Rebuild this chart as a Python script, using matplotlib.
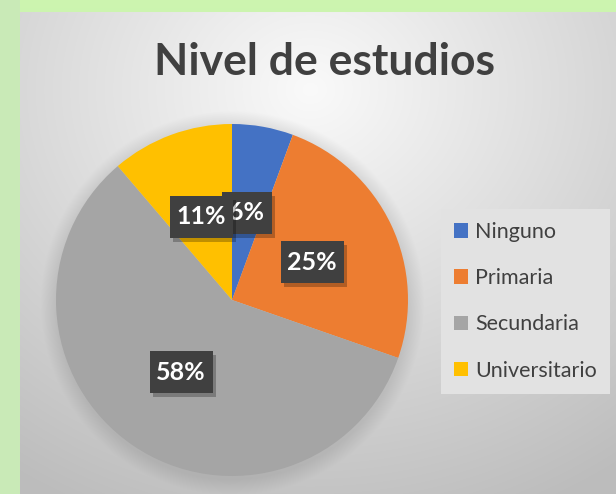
import numpy as np
import matplotlib
matplotlib.use('Agg')
import matplotlib.pyplot as plt
from matplotlib.patches import Patch, Rectangle

# data
categories = ['Ninguno', 'Primaria', 'Secundaria', 'Universitario']
counts = [5, 22, 52, 10]
colors = ['#4472C4', '#ED7D31', '#A5A5A5', '#FFC000']
title = 'Nivel de estudios'

W, H = 616, 494
fig = plt.figure(figsize=(W / 100, H / 100), dpi=100)
ax = fig.add_axes([0, 0, 1, 1])

# background: green frame + grey radial panel with soft pie shadow
yy, xx = np.mgrid[0:H, 0:W]   # yy top-down
img = np.zeros((H, W, 3))
img[:] = np.array([0.80, 0.96, 0.69])
img[:, :20] = np.array([0.79, 0.92, 0.72])
px0, py0 = 20, 13
cx, cy, R = 232, 300, 176
d = np.sqrt(((xx - 310) / 1.15) ** 2 + ((yy - 90) / 1.0) ** 2)
shade = np.clip(0.98 - d / 420 * 0.22, 0.74, 0.98)
panel = np.stack([shade] * 3, axis=-1)
dp = np.sqrt((xx - cx) ** 2 + (yy - cy - 3) ** 2)
sh = np.clip((R + 16 - dp) / 16, 0, 1) * 0.10
panel = panel * (1 - sh[..., None])
mask = (xx >= px0) & (yy >= py0)
img[mask] = panel[mask]
ax.imshow(img, extent=(0, W, 0, H), origin='upper', zorder=0, interpolation='bilinear')

# pie
wedges, _ = ax.pie(counts, colors=colors, startangle=90, counterclock=False,
                   center=(cx, H - cy), radius=R, frame=True,
                   wedgeprops=dict(linewidth=0))
ax.set_xlim(0, W)
ax.set_ylim(0, H)
ax.set_aspect('auto')
ax.axis('off')
for w in wedges:
    w.set_zorder(2)

# data labels
total = sum(counts)
pcts = ['%d%%' % round(c * 100.0 / total) for c in counts]
label_pos = [(247, 213), (312, 262), (181, 372), (201, 217)]
label_w = [50, 63, 63, 63]
for i in range(len(counts)):
    x, y = label_pos[i]
    bw, bh = label_w[i], 42
    ax.add_patch(Rectangle((x - bw / 2 + 3, H - y - bh / 2 - 4), bw, bh,
                           facecolor='#000000', alpha=0.25, linewidth=0, zorder=3 + i))
    ax.add_patch(Rectangle((x - bw / 2, H - y - bh / 2), bw, bh,
                           facecolor='#404040', linewidth=0, zorder=3.1 + i))
    ax.text(x, H - y, pcts[i], ha='center', va='center', color='white',
            fontsize=18, fontweight='bold', family='Lato', zorder=3.2 + i)

# title
ax.text(325, H - 62, title, ha='center', va='center', fontsize=32,
        fontweight='bold', family='Lato', color='#404040', zorder=5)

# legend
handles = [Patch(facecolor=c, edgecolor='none') for c in colors]
leg = ax.legend(handles, categories, loc='upper left',
                bbox_to_anchor=(441 / W, 1 - 209 / H), bbox_transform=fig.transFigure,
                frameon=True, fancybox=False, fontsize=15.5, labelspacing=1.22,
                handlelength=0.65, handleheight=0.65, handletextpad=0.35,
                borderpad=0.6, borderaxespad=0)
leg.get_frame().set_facecolor('#e2e2e2')
leg.get_frame().set_edgecolor('none')
leg.get_frame().set_alpha(1)
for t in leg.get_texts():
    t.set_color('#404040')
    t.set_family('Lato')

fig.savefig('out.png', dpi=100)
